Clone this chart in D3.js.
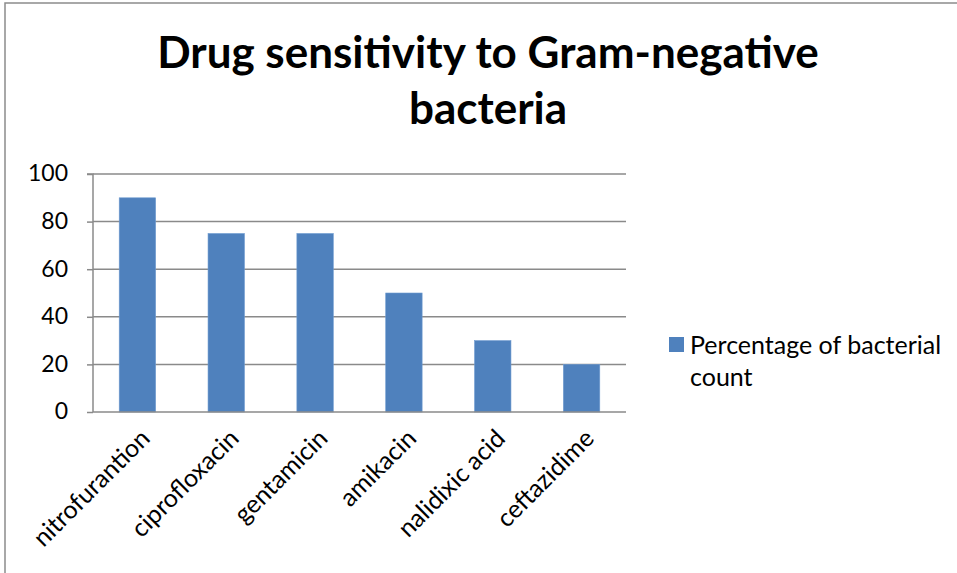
<!DOCTYPE html>
<html><head><meta charset="utf-8">
<script src="https://cdn.jsdelivr.net/npm/d3@7"></script>
<style>body{margin:0;background:#fff}svg{display:block}</style>
</head><body>
<script>
const categories = ["nitrofurantion","ciprofloxacin","gentamicin","amikacin","nalidixic acid","ceftazidime"];
const values = [90,75,75,50,30,20];
const yTicks = [0,20,40,60,80,100];
const seriesName = ["Percentage of bacterial","count"];
const titleLines = ["Drug sensitivity to Gram-negative","bacteria"];

const W=957,H=573;
const svg=d3.select("body").append("svg").attr("width",W).attr("height",H);
const font="Lato, 'Open Sans', sans-serif";
// chart frame
svg.append("rect").attr("x",5).attr("y",3).attr("width",W+10).attr("height",H+10)
  .attr("fill","none").attr("stroke","#8c8c8c").attr("stroke-width",1.5);

const m={l:93,r:626,t:174,b:412};
const x=d3.scaleBand().domain(categories).range([m.l,m.r]).paddingInner(0.59).paddingOuter(0.295);
const y=d3.scaleLinear().domain([0,100]).range([m.b,m.t]);

// gridlines
svg.append("g").selectAll("line").data(yTicks.filter(d=>d>0)).join("line")
  .attr("x1",m.l).attr("x2",m.r).attr("y1",d=>y(d)).attr("y2",d=>y(d))
  .attr("stroke","#8a8a8a").attr("stroke-width",1.5);

// bars
svg.append("g").selectAll("rect").data(values).join("rect")
  .attr("x",(d,i)=>x(categories[i])).attr("width",x.bandwidth())
  .attr("y",d=>y(d)).attr("height",d=>y(0)-y(d))
  .attr("fill","#4f81bd").attr("stroke","#6f9bd0").attr("stroke-width",0.6);

// y axis
const ya=svg.append("g").attr("transform",`translate(${m.l},0)`)
  .call(d3.axisLeft(y).tickValues(yTicks).tickSize(6).tickPadding(19));
ya.select(".domain").attr("stroke","#8a8a8a").attr("stroke-width",1.5).attr("d",`M-6,${m.t}H0V${m.b}`);
ya.selectAll(".tick line").attr("stroke","#8a8a8a").attr("stroke-width",1.5);
ya.selectAll("text").attr("font-family",font).attr("font-size",23).attr("fill","#000").attr("dy","0.3em");

// x axis
const xa=svg.append("g").attr("transform",`translate(0,${m.b})`)
  .call(d3.axisBottom(x).tickSize(0).tickPadding(0));
xa.select(".domain").attr("stroke","#8a8a8a").attr("stroke-width",1.5).attr("d",`M${m.l},0H${m.r}`);
xa.selectAll(".tick text").attr("font-family",font).attr("font-size",25).attr("fill","#000")
  .attr("text-anchor","end").attr("dy",0).attr("y",0)
  .attr("transform","translate(14,28) rotate(-45)");

// title
svg.append("g").selectAll("text").data(titleLines).join("text")
  .attr("x",488).attr("y",(d,i)=>68+i*56).attr("text-anchor","middle")
  .attr("font-family",font).attr("font-weight","bold").attr("font-size",44).attr("fill","#000")
  .text(d=>d);

// legend
svg.append("rect").attr("x",669).attr("y",337).attr("width",15).attr("height",15).attr("fill","#4f81bd");
svg.append("g").selectAll("text").data(seriesName).join("text")
  .attr("x",690).attr("y",(d,i)=>354+i*32).attr("font-family",font).attr("font-size",25).attr("fill","#000")
  .text(d=>d);
</script>
</body></html>
